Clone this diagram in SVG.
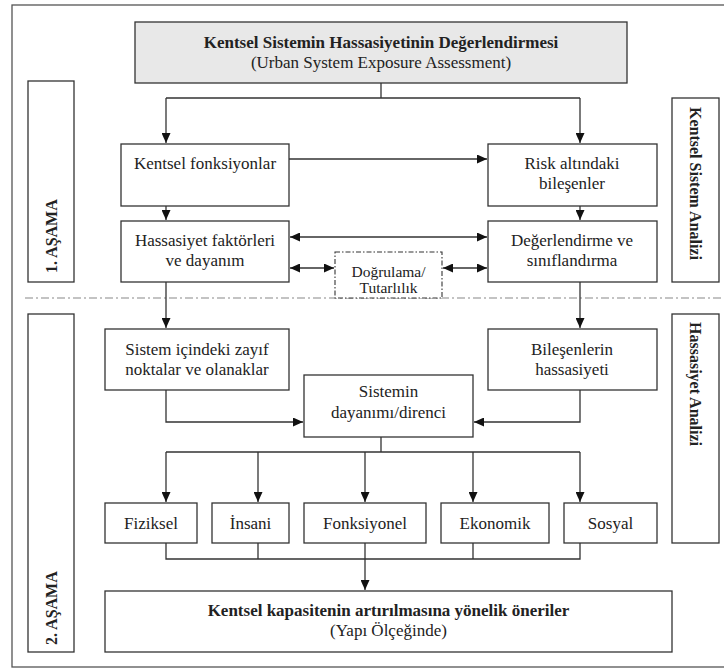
<svg xmlns="http://www.w3.org/2000/svg" width="724" height="669" viewBox="0 0 724 669">
<style>
.box{fill:#fff;stroke:#333;stroke-width:1.3}
.t{font-family:'Liberation Serif','DejaVu Serif','Times New Roman',serif;font-size:17px;fill:#222;text-anchor:middle}
.b{font-weight:bold}
.r{font-size:16px;text-anchor:start}
.c{fill:none;stroke:#333;stroke-width:1.3}
</style>
<defs>
<marker id="ah" markerUnits="userSpaceOnUse" markerWidth="11" markerHeight="9" refX="10" refY="4.5" orient="auto-start-reverse">
<path d="M0,0 L10,4.5 L0,9 z" fill="#111"/>
</marker>
</defs>
<rect x="0" y="0" width="724" height="669" fill="#fff"/>
<rect x="12" y="5" width="722" height="662" fill="none" stroke="#555" stroke-width="1.3"/>
<line x1="25" y1="298" x2="724" y2="298" stroke="#888" stroke-width="1.2" stroke-dasharray="8 3 2 3"/>
<g id="top">
<rect x="135" y="22" width="492" height="61" fill="#e8e8e8" stroke="#333" stroke-width="1.3"/>
<text class="t b" x="381" y="48">Kentsel Sistemin Hassasiyetinin Değerlendirmesi</text>
<text class="t" x="381" y="68">(Urban System Exposure Assessment)</text>
</g>
<g id="asama1">
<rect class="box" x="28" y="81" width="46" height="201"/>
<text class="t b r" transform="translate(57,273) rotate(-90)">1. AŞAMA</text>
</g>
<g id="ksa">
<rect class="box" x="672" y="98" width="47" height="184"/>
<text class="t b r" transform="translate(690,107) rotate(90)">Kentsel Sistem Analizi</text>
</g>
<g id="asama2">
<rect class="box" x="28" y="314" width="46" height="338"/>
<text class="t b r" transform="translate(57,645) rotate(-90)">2. AŞAMA</text>
</g>
<g id="ha">
<rect class="box" x="672" y="314" width="47" height="229"/>
<text class="t b r" transform="translate(690,322) rotate(90)">Hassasiyet Analizi</text>
</g>
<g id="kf">
<rect class="box" x="121" y="144" width="168" height="62"/>
<text class="t" x="205" y="169">Kentsel fonksiyonlar</text>
</g>
<g id="risk">
<rect class="box" x="488" y="144" width="169" height="62"/>
<text class="t" x="572" y="169">Risk altındaki</text>
<text class="t" x="572" y="189">bileşenler</text>
</g>
<g id="hfd">
<rect class="box" x="121" y="221" width="168" height="61"/>
<text class="t" x="205" y="246">Hassasiyet faktörleri</text>
<text class="t" x="205" y="266">ve dayanım</text>
</g>
<g id="ds">
<rect class="box" x="488" y="221" width="169" height="61"/>
<text class="t" x="572" y="246">Değerlendirme ve</text>
<text class="t" x="572" y="266">sınıflandırma</text>
</g>
<g id="dt">
<rect x="335" y="252" width="107" height="46" fill="#fff" stroke="#333" stroke-width="1.1" stroke-dasharray="5 2 1.5 2"/>
<text class="t" x="388.5" y="277" style="font-size:15.5px">Doğrulama/</text>
<text class="t" x="388.5" y="293" style="font-size:15.5px">Tutarlılık</text>
</g>
<g id="siz">
<rect class="box" x="105" y="329" width="184" height="61"/>
<text class="t" x="197" y="355">Sistem içindeki zayıf</text>
<text class="t" x="197" y="375">noktalar ve olanaklar</text>
</g>
<g id="bh">
<rect class="box" x="488" y="329" width="169" height="61"/>
<text class="t" x="572" y="355">Bileşenlerin</text>
<text class="t" x="572" y="375">hassasiyeti</text>
</g>
<g id="sd">
<rect class="box" x="304" y="375" width="169" height="62"/>
<text class="t" x="388.5" y="397">Sistemin</text>
<text class="t" x="388.5" y="418">dayanımı/direnci</text>
</g>
<g id="fiz">
<rect class="box" x="105" y="503" width="92" height="40"/>
<text class="t" x="151" y="529">Fiziksel</text>
</g>
<g id="ins">
<rect class="box" x="212" y="503" width="77" height="40"/>
<text class="t" x="250.5" y="529">İnsani</text>
</g>
<g id="fon">
<rect class="box" x="304" y="503" width="122" height="40"/>
<text class="t" x="365" y="529">Fonksiyonel</text>
</g>
<g id="eko">
<rect class="box" x="441" y="503" width="108" height="40"/>
<text class="t" x="495" y="529">Ekonomik</text>
</g>
<g id="sos">
<rect class="box" x="564" y="503" width="93" height="40"/>
<text class="t" x="610.5" y="529">Sosyal</text>
</g>
<g id="final">
<rect class="box" x="105" y="591" width="567" height="61"/>
<text class="t b" x="388.5" y="616">Kentsel kapasitenin artırılmasına yönelik öneriler</text>
<text class="t" x="388.5" y="636">(Yapı Ölçeğinde)</text>
</g>
<g id="connectors" class="c">
<path class="c" d="M381,83 V98 M166,98 H580"/>
<path class="c" d="M166,98 V143" marker-end="url(#ah)"/>
<path class="c" d="M580,98 V143" marker-end="url(#ah)"/>
<path class="c" d="M289,159 H487" marker-end="url(#ah)"/>
<path class="c" d="M166,206 V220" marker-end="url(#ah)"/>
<path class="c" d="M580,206 V220" marker-end="url(#ah)"/>
<path class="c" d="M290,237 H487" marker-start="url(#ah)" marker-end="url(#ah)"/>
<path class="c" d="M290,268 H334" marker-start="url(#ah)" marker-end="url(#ah)"/>
<path class="c" d="M443,268 H487" marker-start="url(#ah)" marker-end="url(#ah)"/>
<path class="c" d="M166,282 V328" marker-end="url(#ah)"/>
<path class="c" d="M580,282 V328" marker-end="url(#ah)"/>
<path class="c" d="M166,390 V422 H303" marker-end="url(#ah)"/>
<path class="c" d="M580,390 V422 H474" marker-end="url(#ah)"/>
<path class="c" d="M381,437 V452 M166,452 H580"/>
<path class="c" d="M166,452 V502" marker-end="url(#ah)"/>
<path class="c" d="M258,452 V502" marker-end="url(#ah)"/>
<path class="c" d="M365,452 V502" marker-end="url(#ah)"/>
<path class="c" d="M473,452 V502" marker-end="url(#ah)"/>
<path class="c" d="M580,452 V502" marker-end="url(#ah)"/>
<path class="c" d="M166,543 V559 H580 V543 M258,543 V559 M473,543 V559"/>
<path class="c" d="M365,543 V590" marker-end="url(#ah)"/>
</g>
</svg>
